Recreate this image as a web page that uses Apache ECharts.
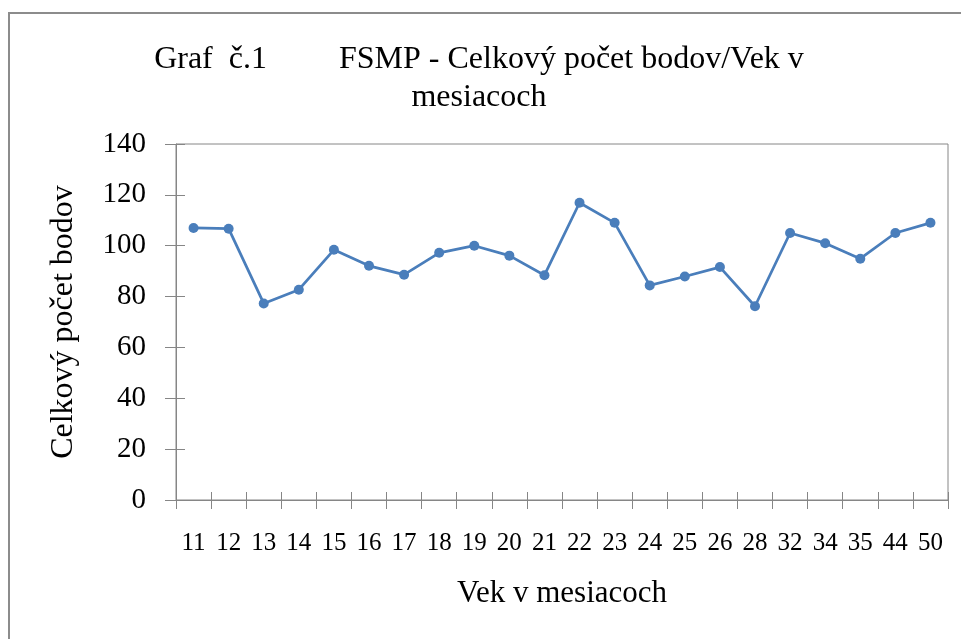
<!DOCTYPE html>
<html>
<head>
<meta charset="utf-8">
<script src="https://cdn.jsdelivr.net/npm/echarts@6/dist/echarts.min.js"></script>
<style>
html,body{margin:0;padding:0;background:#fff;}
#main{width:961px;height:639px;}
</style>
</head>
<body>
<div id="main"></div>
<script>
// Vek v mesiacoch (x) a celkovy pocet bodov (y)
var ageMonths = ['11','12','13','14','15','16','17','18','19','20','21','22','23','24','25','26','28','32','34','35','44','50'];
var totalPoints = [107, 106.7, 77.3, 82.7, 98.4, 92.1, 88.6, 97.2, 100, 96.1, 88.4, 116.9, 109, 84.4, 87.9, 91.6, 76.2, 105, 101, 94.9, 105, 109];
var yMin = 0, yMax = 140, yStep = 20;

var chartTitle = 'Graf  \u010d.1         FSMP - Celkov\u00fd po\u010det bodov/Vek v\nmesiacoch';
var yName = 'Celkov\u00fd po\u010det bodov';
var xName = 'Vek v mesiacoch';

var serif = '"Liberation Serif", "DejaVu Serif", serif';
var axisGrey = '#868686';

var option = {
    backgroundColor: '#fff',
    animation: false,
    title: {
        text: chartTitle,
        left: 474,
        top: 36,
        textAlign: 'center',
        textStyle: {
            fontFamily: serif,
            fontSize: 32,
            fontWeight: 'normal',
            color: '#000',
            lineHeight: 38
        }
    },
    graphic: [
        {   // vonkajsi ramik
            type: 'rect',
            shape: {x: 9, y: 13, width: 1000, height: 700},
            style: {fill: 'none', stroke: '#8c8c8c', lineWidth: 2},
            silent: true,
            z: -1
        }
    ],
    grid: {
        left: 176,
        right: 13,
        top: 144,
        bottom: 139,
        show: true,
        borderColor: axisGrey,
        borderWidth: 1,
        backgroundColor: 'transparent'
    },
    xAxis: [
        {
            type: 'category',
            data: ageMonths,
            boundaryGap: true,
            name: xName,
            nameLocation: 'middle',
            nameGap: 78,
            nameTextStyle: {fontFamily: serif, fontSize: 31, color: '#000'},
            axisLine: {lineStyle: {color: axisGrey, width: 1}},
            axisTick: {show: true, inside: false, length: 9, lineStyle: {color: axisGrey}},
            axisLabel: {interval: 0, margin: 31, fontFamily: serif, fontSize: 25, color: '#000'},
            splitLine: {show: false}
        },
        {   // vnutorne dieliky (krizom cez os)
            type: 'category',
            data: ageMonths,
            boundaryGap: true,
            position: 'bottom',
            axisLine: {show: false},
            axisTick: {show: true, inside: true, length: 8, lineStyle: {color: axisGrey}},
            axisLabel: {show: false},
            splitLine: {show: false}
        }
    ],
    yAxis: [
        {
            type: 'value',
            min: yMin,
            max: yMax,
            interval: yStep,
            name: yName,
            nameLocation: 'middle',
            nameGap: 96,
            nameTextStyle: {fontFamily: serif, fontSize: 32, color: '#000'},
            axisLine: {show: true, lineStyle: {color: axisGrey, width: 1}},
            axisTick: {show: true, inside: false, length: 11, lineStyle: {color: axisGrey}},
            axisLabel: {margin: 30, fontFamily: serif, fontSize: 29, color: '#000'},
            splitLine: {show: false}
        },
        {
            type: 'value',
            min: yMin,
            max: yMax,
            interval: yStep,
            position: 'left',
            axisLine: {show: false},
            axisTick: {show: true, inside: true, length: 9, lineStyle: {color: axisGrey}},
            axisLabel: {show: false},
            splitLine: {show: false}
        }
    ],
    series: [
        {
            name: yName,
            type: 'line',
            data: totalPoints,
            symbol: 'circle',
            symbolSize: 10,
            lineStyle: {color: '#4a7ebb', width: 2.75},
            itemStyle: {color: '#4a7ebb'}
        }
    ]
};

var chart = echarts.init(document.getElementById('main'));
chart.setOption(option);
</script>
</body>
</html>
